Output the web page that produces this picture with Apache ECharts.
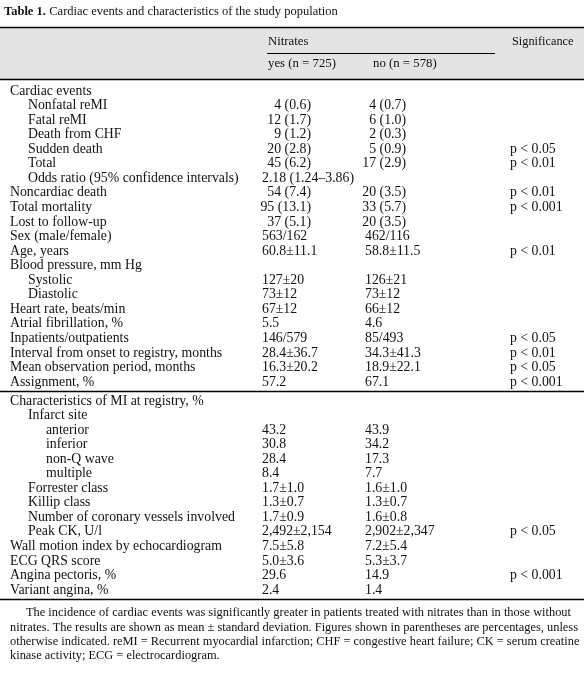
<!DOCTYPE html>
<html><head><meta charset="utf-8">
<script src="https://cdn.jsdelivr.net/npm/echarts@6/dist/echarts.min.js"></script>
<style>html,body{margin:0;padding:0;background:#fff}#c{width:584px;height:683px}</style>
</head><body><div id="c"></div>
<script>
// [label, indent level, yes, no, significance]
const section1 = [
 ["Cardiac events",0,"","",""],
 ["Nonfatal reMI",1,"4 (0.6)","4 (0.7)",""],
 ["Fatal reMI",1,"12 (1.7)","6 (1.0)",""],
 ["Death from CHF",1,"9 (1.2)","2 (0.3)",""],
 ["Sudden death",1,"20 (2.8)","5 (0.9)","p < 0.05"],
 ["Total",1,"45 (6.2)","17 (2.9)","p < 0.01"],
 ["Odds ratio (95% confidence intervals)",1,"2.18 (1.24–3.86)","",""],
 ["Noncardiac death",0,"54 (7.4)","20 (3.5)","p < 0.01"],
 ["Total mortality",0,"95 (13.1)","33 (5.7)","p < 0.001"],
 ["Lost to follow-up",0,"37 (5.1)","20 (3.5)",""],
 ["Sex (male/female)",0,"563/162","462/116",""],
 ["Age, years",0,"60.8±11.1","58.8±11.5","p < 0.01"],
 ["Blood pressure, mm Hg",0,"","",""],
 ["Systolic",1,"127±20","126±21",""],
 ["Diastolic",1,"73±12","73±12",""],
 ["Heart rate, beats/min",0,"67±12","66±12",""],
 ["Atrial fibrillation, %",0,"5.5","4.6",""],
 ["Inpatients/outpatients",0,"146/579","85/493","p < 0.05"],
 ["Interval from onset to registry, months",0,"28.4±36.7","34.3±41.3","p < 0.01"],
 ["Mean observation period, months",0,"16.3±20.2","18.9±22.1","p < 0.05"],
 ["Assignment, %",0,"57.2","67.1","p < 0.001"]
];
const section2 = [
 ["Characteristics of MI at registry, %",0,"","",""],
 ["Infarct site",1,"","",""],
 ["anterior",2,"43.2","43.9",""],
 ["inferior",2,"30.8","34.2",""],
 ["non-Q wave",2,"28.4","17.3",""],
 ["multiple",2,"8.4","7.7",""],
 ["Forrester class",1,"1.7±1.0","1.6±1.0",""],
 ["Killip class",1,"1.3±0.7","1.3±0.7",""],
 ["Number of coronary vessels involved",1,"1.7±0.9","1.6±0.8",""],
 ["Peak CK, U/l",1,"2,492±2,154","2,902±2,347","p < 0.05"],
 ["Wall motion index by echocardiogram",0,"7.5±5.8","7.2±5.4",""],
 ["ECG QRS score",0,"5.0±3.6","5.3±3.7",""],
 ["Angina pectoris, %",0,"29.6","14.9","p < 0.001"],
 ["Variant angina, %",0,"2.4","1.4",""]
];
const headers = ["Nitrates","yes (n = 725)","no (n = 578)","Significance"];
const footnote = [
 "The incidence of cardiac events was significantly greater in patients treated with nitrates than in those without",
 "nitrates. The results are shown as mean ± standard deviation. Figures shown in parentheses are percentages, unless",
 "otherwise indicated. reMI = Recurrent myocardial infarction; CHF = congestive heart failure; CK = serum creatine",
 "kinase activity; ECG = electrocardiogram."
];

const F = '"Liberation Serif", "DejaVu Serif", serif';
const FS = 13.8;
const els = [];
function txt(x,y,s,o={}){els.push({type:'text',x,y,style:Object.assign({text:s,font:(o.bold?'bold ':'')+(o.fs||FS)+'px '+F,fill:'#111',textAlign:o.align||'left',textVerticalAlign:'middle'},o.st||{})});}
function line(x1,y1,x2,y2,w){els.push({type:'line',shape:{x1,y1,x2,y2},style:{stroke:'#000',lineWidth:w||1}});}

els.push({type:'rect',shape:{x:0,y:28,width:584,height:51},style:{fill:'#e4e4e4'}});
els.push({type:'text',x:4,y:12,style:{rich:{b:{font:'bold 12.5px '+F,fill:'#111'},n:{font:'12.5px '+F,fill:'#111'}},text:'{b|Table 1.} {n|Cardiac events and characteristics of the study population}',textVerticalAlign:'middle'}});
line(0,27.5,584,27.5,1.5);
line(267,53.5,495,53.5,1);
line(0,79.5,584,79.5,1.5);
txt(268,42,headers[0],{fs:12.8}); txt(512,42,headers[3],{fs:12.3});
txt(268,64,headers[1],{fs:12.8}); txt(373,64,headers[2],{fs:12.8});

const indX=[10,28,46];
const countRe=/^\d+ \(/;
function rows(arr,y0,dy){
  arr.forEach((r,i)=>{
    const y=y0+i*dy;
    txt(indX[r[1]],y,r[0]);
    if(r[2]) countRe.test(r[2])?txt(311,y,r[2],{align:'right'}):txt(262,y,r[2]);
    if(r[3]) countRe.test(r[3])?txt(406,y,r[3],{align:'right'}):txt(365,y,r[3]);
    if(r[4]) txt(510,y,r[4]);
  });
}
rows(section1,91,14.55);
line(0,391.5,584,391.5,1.5);
rows(section2,401,14.54);
line(0,599.5,584,599.5,1.5);
footnote.forEach((s,i)=>txt(i===0?26:10,613+i*14.3,s,{fs:12.4}));

const chart=echarts.init(document.getElementById('c'),null,{renderer:'canvas',width:584,height:683});
chart.setOption({animation:false,graphic:{elements:els}});
</script></body></html>
